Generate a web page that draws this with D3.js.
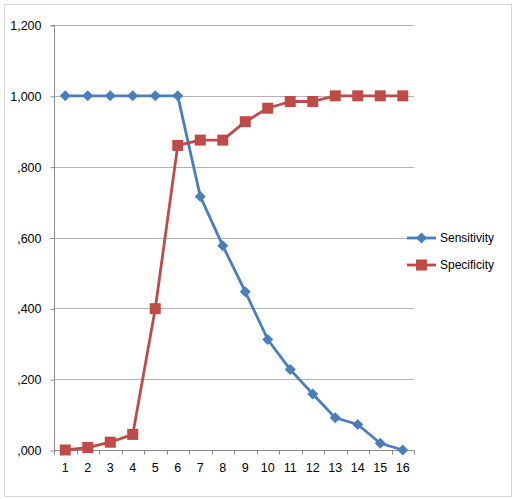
<!DOCTYPE html>
<html><head><meta charset="utf-8">
<script src="https://cdn.jsdelivr.net/npm/d3@7"></script>
<style>body{margin:0;background:#fff}svg{display:block}</style>
</head><body>
<script>
const categories = ["1","2","3","4","5","6","7","8","9","10","11","12","13","14","15","16"];
const sensitivity = [1,1,1,1,1,1,0.716,0.577,0.447,0.312,0.227,0.158,0.091,0.072,0.019,0];
const specificity = [0,0.007,0.022,0.044,0.399,0.860,0.875,0.875,0.927,0.965,0.984,0.984,1,1,1,1];
const yTicks = [0,0.2,0.4,0.6,0.8,1.0,1.2];
const yTickLabels = [",000",",200",",400",",600",",800","1,000","1,200"];
const seriesNames = ["Sensitivity","Specificity"];
const colors = ["#4A7EBB","#BE4B48"];

(function(){
const W=519,H=499;
const svg=d3.select("body").append("svg").attr("width",W).attr("height",H);
svg.append("rect").attr("x",4.5).attr("y",4.5).attr("width",507).attr("height",492)
  .attr("fill","#fff").attr("stroke","#D9D9D9").attr("stroke-width",1);

const pL=54,pR=414,pT=25,pB=450;
const x=d3.scaleBand().domain(categories).range([pL,pR]);
const y=d3.scaleLinear().domain([0,1.2]).range([pB,pT]);
const font="'Liberation Sans', Arial, sans-serif";

// gridlines
svg.append("g").selectAll("line").data(yTicks.filter(d=>d>0)).join("line")
  .attr("x1",pL).attr("x2",pR).attr("y1",d=>Math.round(y(d))+0.5).attr("y2",d=>Math.round(y(d))+0.5)
  .attr("stroke","#B3B3B3").attr("stroke-width",1);

// y axis
const yAxis=d3.axisLeft(y).tickValues(yTicks).tickFormat((d,i)=>yTickLabels[i]).tickSize(4).tickPadding(9);
const gy=svg.append("g").attr("transform",`translate(${pL+0.5},0.5)`).call(yAxis);
gy.select(".domain").attr("stroke","#8C8C8C").attr("d",`M-4,${pT}H0V${pB}`);
gy.selectAll(".tick line").attr("stroke","#8C8C8C");
gy.selectAll(".tick text").attr("font-family",font).attr("font-size",12.5).attr("fill","#000");

// x axis
const xAxis=d3.axisBottom(x).tickSize(0).tickPadding(13);
const gx=svg.append("g").attr("transform",`translate(0,${pB+0.5})`).call(xAxis);
gx.select(".domain").attr("stroke","#8C8C8C").attr("d",`M${pL},0H${pR}`);
gx.selectAll(".tick text").attr("font-family",font).attr("font-size",12.5).attr("fill","#000");
const bounds=categories.map(c=>x(c)).concat([pR]);
gx.append("g").selectAll("line").data(bounds).join("line")
  .attr("x1",d=>Math.round(d)+0.5).attr("x2",d=>Math.round(d)+0.5).attr("y1",0).attr("y2",4)
  .attr("stroke","#8C8C8C");

const cx=c=>x(c)+x.bandwidth()/2;
const line=d3.line().x((d,i)=>cx(categories[i])).y(d=>y(d));
const data=[sensitivity,specificity];

data.forEach((vals,k)=>{
  svg.append("path").datum(vals).attr("d",line).attr("fill","none")
    .attr("stroke",colors[k]).attr("stroke-width",2.8).attr("stroke-linejoin","round");
});
function marker(g,k,px,py){
  if(k===0){
    g.append("path").attr("d",`M${px},${py-5.5}L${px+5.5},${py}L${px},${py+5.5}L${px-5.5},${py}Z`).attr("fill",colors[0]);
  } else {
    g.append("rect").attr("x",px-5.5).attr("y",py-5.5).attr("width",11).attr("height",11).attr("fill",colors[1]);
  }
}
data.forEach((vals,k)=>{
  const g=svg.append("g");
  vals.forEach((v,i)=>marker(g,k,cx(categories[i]),y(v)));
});

const legY=[238,265];
seriesNames.forEach((n,k)=>{
  const g=svg.append("g");
  g.append("line").attr("x1",407).attr("x2",436).attr("y1",legY[k]).attr("y2",legY[k])
    .attr("stroke",colors[k]).attr("stroke-width",2.8);
  marker(g,k,421.5,legY[k]);
  g.append("text").attr("x",440).attr("y",legY[k]).attr("dy","0.35em")
    .attr("font-family",font).attr("font-size",12).text(n);
});
})();
</script>
</body></html>
